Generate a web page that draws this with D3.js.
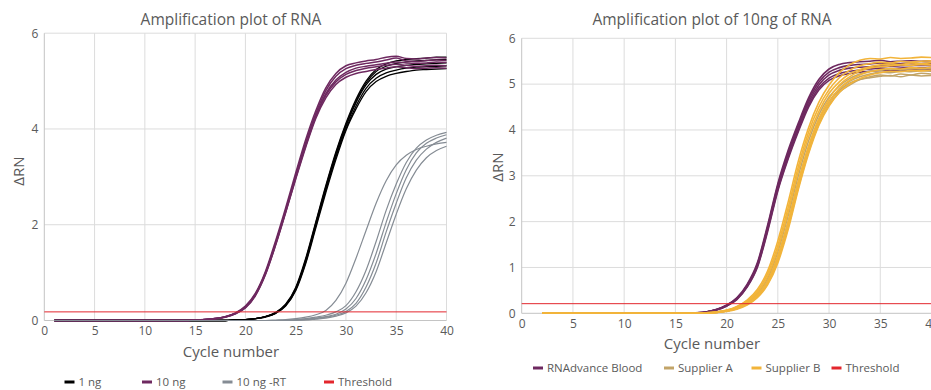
<!DOCTYPE html>
<html><head><meta charset="utf-8">
<script src="https://cdn.jsdelivr.net/npm/d3@7"></script>
<style>
html,body{margin:0;padding:0;background:#fff;}
svg text{font-family:"Open Sans",sans-serif;fill:#5a5a5a;}
</style></head>
<body><svg id="c" width="931" height="390"></svg>
<script>
// ---------- DATA ----------
const cyclesL = [1,2,3,4,5,6,7,8,9,10,11,12,13,14,15,16,17,18,19,20,21,22,23,24,25,26,27,28,29,30,31,32,33,34,35,36,37,38,39,40];
const cyclesR = [2,3,4,5,6,7,8,9,10,11,12,13,14,15,16,17,18,19,20,21,22,23,24,25,26,27,28,29,30,31,32,33,34,35,36,37,38,39,40];
const xTicks = [0,5,10,15,20,25,30,35,40];
const yTicksL = [0,2,4,6];
const yTicksR = [0,1,2,3,4,5,6];
const thresholdL = 0.18;
const thresholdR = 0.21;

const z14 = [0,0,0,0,0,0,0,0,0,0,0,0,0,0];
const z15 = [0,0,0,0,0,0,0,0,0,0,0,0,0,0,0];
const z16 = [0,0,0,0,0,0,0,0,0,0,0,0,0,0,0,0];
const z18 = [0,0,0,0,0,0,0,0,0,0,0,0,0,0,0,0,0,0];
const z22 = [0,0,0,0,0,0,0,0,0,0,0,0,0,0,0,0,0,0,0,0,0,0];

// Left: 10 ng (purple)
const ng10 = [
  z14.concat([0.01,0.02,0.04,0.08,0.16,0.3,0.57,1.03,1.66,2.35,3.08,3.78,4.38,4.86,5.16,5.32,5.38,5.42,5.45,5.5,5.52,5.47,5.46,5.48,5.49,5.48]),
  z14.concat([0.01,0.02,0.04,0.08,0.15,0.28,0.55,1.0,1.62,2.3,3.02,3.72,4.32,4.8,5.1,5.26,5.33,5.37,5.4,5.44,5.48,5.42,5.41,5.43,5.44,5.43]),
  z14.concat([0.01,0.02,0.04,0.08,0.15,0.28,0.54,0.99,1.6,2.28,3.0,3.68,4.27,4.74,5.02,5.18,5.27,5.31,5.34,5.37,5.4,5.38,5.37,5.38,5.4,5.39]),
  z14.concat([0.01,0.02,0.04,0.07,0.14,0.27,0.53,0.97,1.58,2.26,2.97,3.65,4.25,4.7,4.98,5.14,5.22,5.27,5.3,5.33,5.35,5.33,5.31,5.32,5.33,5.32]),
  z14.concat([0.01,0.02,0.03,0.07,0.14,0.26,0.52,0.96,1.57,2.25,2.95,3.62,4.22,4.65,4.93,5.08,5.16,5.2,5.24,5.27,5.3,5.28,5.26,5.27,5.28,5.27])
];
// Left: 1 ng (black)
const ng1 = [
  z18.concat([0.01,0.02,0.04,0.08,0.17,0.34,0.69,1.3,2.06,2.82,3.52,4.12,4.62,5.0,5.24,5.36,5.42,5.45,5.47,5.48,5.5,5.5]),
  z18.concat([0.01,0.02,0.04,0.08,0.16,0.33,0.67,1.27,2.03,2.79,3.49,4.09,4.58,4.96,5.2,5.31,5.37,5.4,5.42,5.43,5.45,5.45]),
  z18.concat([0.01,0.02,0.04,0.08,0.16,0.32,0.66,1.25,2.0,2.75,3.45,4.05,4.55,4.92,5.14,5.25,5.3,5.33,5.35,5.36,5.37,5.38]),
  z18.concat([0.01,0.02,0.04,0.08,0.15,0.31,0.64,1.22,1.97,2.72,3.41,4.0,4.48,4.85,5.06,5.17,5.23,5.27,5.29,5.3,5.31,5.32]),
  z18.concat([0.01,0.02,0.04,0.07,0.15,0.3,0.62,1.19,1.93,2.67,3.36,3.97,4.42,4.78,4.99,5.1,5.16,5.2,5.23,5.24,5.25,5.26])
];
// Left: 10 ng -RT (grey)
const ngRT = [
  z22.concat([0.01,0.02,0.04,0.07,0.12,0.21,0.42,0.78,1.3,1.88,2.45,2.92,3.25,3.45,3.57,3.64,3.69,3.72]),
  z22.concat([0,0.01,0.02,0.04,0.07,0.11,0.18,0.31,0.6,1.05,1.65,2.3,2.85,3.3,3.6,3.77,3.87,3.93]),
  z22.concat([0,0,0.01,0.03,0.05,0.08,0.13,0.24,0.46,0.85,1.4,2.05,2.65,3.15,3.5,3.7,3.81,3.88]),
  z22.concat([0,0,0.01,0.02,0.04,0.07,0.11,0.19,0.36,0.7,1.2,1.85,2.45,2.98,3.35,3.58,3.72,3.81]),
  z22.concat([0,0,0,0.01,0.03,0.05,0.09,0.16,0.3,0.58,1.02,1.62,2.22,2.75,3.14,3.4,3.55,3.64])
];
// Right: RNAdvance Blood (purple)
const rnadvance = [
  z15.concat([0.01,0.03,0.08,0.18,0.34,0.63,1.1,1.92,2.83,3.55,4.15,4.7,5.1,5.33,5.43,5.47,5.49,5.5,5.52,5.49,5.5,5.51,5.5,5.51]),
  z15.concat([0.01,0.03,0.08,0.17,0.33,0.61,1.07,1.88,2.79,3.5,4.1,4.65,5.04,5.26,5.36,5.41,5.43,5.44,5.46,5.44,5.45,5.46,5.45,5.46]),
  z15.concat([0.01,0.03,0.08,0.17,0.32,0.6,1.05,1.85,2.75,3.45,4.05,4.6,4.98,5.2,5.3,5.35,5.37,5.38,5.4,5.39,5.4,5.41,5.42,5.42]),
  z15.concat([0.01,0.03,0.07,0.16,0.31,0.58,1.02,1.81,2.7,3.4,4.0,4.54,4.92,5.13,5.23,5.28,5.31,5.33,5.35,5.34,5.35,5.36,5.36,5.37]),
  z15.concat([0.01,0.03,0.07,0.16,0.3,0.57,1.0,1.78,2.67,3.36,3.96,4.5,4.87,5.08,5.18,5.23,5.26,5.28,5.3,5.29,5.3,5.31,5.32,5.31])
];
// Right: Supplier A (khaki)
const supplierA = [
  z16.concat([0.01,0.03,0.06,0.12,0.24,0.43,0.76,1.34,2.12,3.0,3.76,4.33,4.72,4.96,5.12,5.22,5.28,5.3,5.33,5.31,5.34,5.33,5.35]),
  z16.concat([0.01,0.02,0.05,0.11,0.21,0.38,0.68,1.21,1.95,2.83,3.6,4.2,4.62,4.9,5.06,5.16,5.22,5.26,5.25,5.28,5.27,5.29,5.28]),
  z16.concat([0,0.02,0.05,0.1,0.2,0.36,0.64,1.15,1.87,2.74,3.52,4.12,4.54,4.82,4.98,5.1,5.16,5.2,5.18,5.22,5.2,5.24,5.22]),
  z16.concat([0.01,0.02,0.05,0.11,0.22,0.39,0.7,1.24,1.98,2.86,3.62,4.2,4.6,4.86,5.02,5.1,5.14,5.17,5.19,5.16,5.2,5.18,5.19])
];
// Right: Supplier B (yellow)
const supplierB = [
  z16.concat([0.01,0.03,0.07,0.15,0.29,0.52,0.92,1.58,2.42,3.32,4.05,4.6,4.98,5.25,5.42,5.52,5.56,5.55,5.58,5.56,5.57,5.59,5.58]),
  z16.concat([0.01,0.03,0.06,0.14,0.27,0.48,0.86,1.48,2.3,3.2,3.95,4.5,4.88,5.14,5.3,5.4,5.45,5.48,5.46,5.5,5.48,5.5,5.51]),
  z16.concat([0.01,0.03,0.06,0.13,0.25,0.45,0.8,1.4,2.2,3.1,3.85,4.4,4.8,5.05,5.22,5.32,5.38,5.42,5.44,5.43,5.46,5.45,5.47]),
  z16.concat([0.01,0.02,0.05,0.11,0.22,0.4,0.7,1.25,2.0,2.88,3.65,4.25,4.68,4.98,5.16,5.28,5.35,5.38,5.4,5.42,5.41,5.43,5.42]),
  z16.concat([0,0.02,0.05,0.1,0.2,0.37,0.66,1.18,1.92,2.8,3.58,4.18,4.6,4.9,5.08,5.2,5.27,5.32,5.34,5.33,5.36,5.35,5.37]),
  z16.concat([0,0.02,0.04,0.09,0.18,0.34,0.62,1.1,1.82,2.7,3.48,4.1,4.52,4.82,5.0,5.12,5.2,5.25,5.28,5.27,5.3,5.29,5.31])
];

const legendL = ["1 ng","10 ng","10 ng -RT","Threshold"];
const legendR = ["RNAdvance Blood","Supplier A","Supplier B","Threshold"];

// ---------- STYLE ----------
const C = {purple:"#6e2960", black:"#000000", grey:"#858c94", khaki:"#c2a468", yellow:"#f2b43a", red:"#e3262d", grid:"#dcdcdc", axis:"#c4c4c4"};

const svg = d3.select("#c");

function panel(o){
  const x = d3.scaleLinear().domain([0,40]).range([o.x0,o.x1]);
  const y = d3.scaleLinear().domain([0,6]).range([o.y0,o.y1]);
  const g = svg.append("g");
  g.selectAll(".vg").data(xTicks.filter(d=>d>0)).join("line")
    .attr("x1",d=>x(d)).attr("x2",d=>x(d)).attr("y1",y(0)).attr("y2",y(6))
    .attr("stroke",C.grid).attr("stroke-width",1);
  g.selectAll(".hg").data(o.yTicks.filter(d=>d>0)).join("line")
    .attr("x1",x(0)).attr("x2",x(40)).attr("y1",d=>y(d)).attr("y2",d=>y(d))
    .attr("stroke",C.grid).attr("stroke-width",1);
  g.append("line").attr("x1",x(0)).attr("x2",x(40)).attr("y1",y(0)).attr("y2",y(0))
    .attr("stroke",C.axis).attr("stroke-width",1);
  g.append("line").attr("x1",x(0)).attr("x2",x(0)).attr("y1",y(0)).attr("y2",y(6))
    .attr("stroke",C.axis).attr("stroke-width",1);
  const xa = d3.axisBottom(x).tickValues(xTicks).tickFormat(d3.format("d")).tickSize(0).tickPadding(6);
  const xg = g.append("g").attr("transform",`translate(0,${y(0)})`).call(xa);
  xg.select(".domain").remove();
  xg.selectAll("text").style("font-size","12px").attr("fill","#5a5a5a");
  const ya = d3.axisLeft(y).tickValues(o.yTicks).tickFormat(d3.format("d")).tickSize(0).tickPadding(6);
  const yg = g.append("g").attr("transform",`translate(${x(0)},0)`).call(ya);
  yg.select(".domain").remove();
  yg.selectAll("text").style("font-size","12px").attr("fill","#5a5a5a");
  g.append("text").attr("x",o.cx).attr("y",o.titleY).attr("text-anchor","middle")
    .style("font-size","15.5px").text(o.title);
  g.append("text").attr("x",o.cx).attr("y",o.xTitleY).attr("text-anchor","middle")
    .style("font-size","15px").text("Cycle number");
  g.append("text").attr("transform",`translate(${o.yTitleX},${o.yTitleY}) rotate(-90)`)
    .attr("text-anchor","middle").attr("dy","0.35em").style("font-size","15px").text("ΔRN");
  const line = d3.line().x(d=>x(d[0])).y(d=>y(d[1])).curve(d3.curveMonotoneX);
  o.series.forEach(s=>{
    s.reps.forEach(r=>{
      g.append("path").attr("d",line(o.cycles.map((c,i)=>[c,r[i]])))
        .attr("fill","none").attr("stroke",s.color).attr("stroke-width",s.w);
    });
  });
  g.append("line").attr("x1",x(0)).attr("x2",x(40)).attr("y1",y(o.thr)).attr("y2",y(o.thr))
    .attr("stroke",C.red).attr("stroke-width",1);
  o.legend.forEach((t,i)=>{
    const lx = o.legX[i];
    g.append("line").attr("x1",lx).attr("x2",lx+10).attr("y1",o.legY).attr("y2",o.legY)
      .attr("stroke",o.legColors[i]).attr("stroke-width",3);
    g.append("text").attr("x",lx+14).attr("y",o.legY).attr("dy","0.35em")
      .style("font-size","11.5px").text(t);
  });
}

panel({x0:44.3,x1:446.5,y0:320.5,y1:33.2,yTicks:yTicksL,cycles:cyclesL,thr:thresholdL,cx:231,
  title:"Amplification plot of RNA",titleY:25,xTitleY:357,yTitleX:19,yTitleY:171,
  series:[{reps:ng1,color:C.black,w:1.3},{reps:ng10,color:C.purple,w:1.5},{reps:ngRT,color:C.grey,w:1.2}],
  legend:legendL,legColors:[C.black,C.purple,C.grey,C.red],legX:[64.5,142,222.5,324],legY:382});

panel({x0:521.7,x1:931.5,y0:313.3,y1:38.3,yTicks:yTicksR,cycles:cyclesR,thr:thresholdR,cx:712,
  title:"Amplification plot of 10ng of RNA",titleY:25,xTitleY:349,yTitleX:498,yTitleY:167,
  series:[{reps:rnadvance,color:C.purple,w:1.6},{reps:supplierA,color:C.khaki,w:1.5},{reps:supplierB,color:C.yellow,w:1.6}],
  legend:legendR,legColors:[C.purple,C.khaki,C.yellow,C.red],legX:[533,664,751.5,831.5],legY:368});
</script></body></html>
